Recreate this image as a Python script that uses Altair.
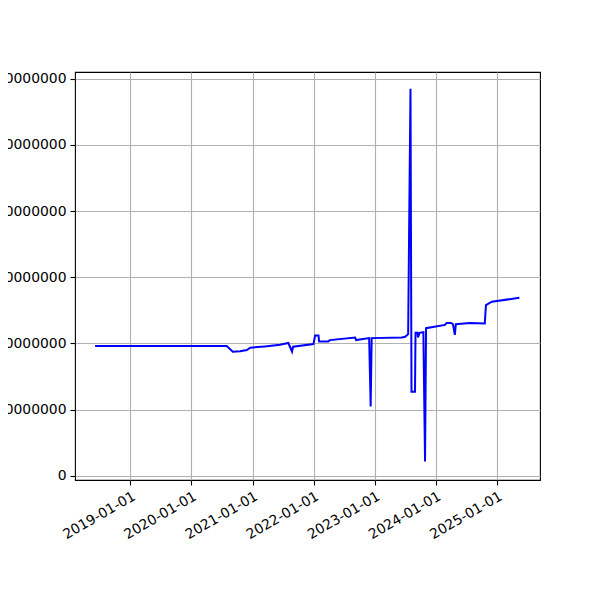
import altair as alt
import pandas as pd

dates = [
    "2018-06-04", "2020-07-30", "2020-09-04", "2020-10-18", "2020-11-27",
    "2020-12-17", "2021-03-15", "2021-06-13", "2021-08-02", "2021-08-24",
    "2021-08-30", "2021-12-30", "2022-01-09", "2022-01-29", "2022-02-02",
    "2022-03-28", "2022-04-07", "2022-09-05", "2022-09-11", "2022-11-28",
    "2022-12-07", "2022-12-13", "2023-06-11", "2023-07-01", "2023-07-19",
    "2023-08-02", "2023-08-08", "2023-08-29", "2023-09-01", "2023-09-13",
    "2023-09-16", "2023-09-25", "2023-10-18", "2023-10-28", "2023-11-03",
    "2024-02-24", "2024-03-05", "2024-04-01", "2024-04-12", "2024-04-23",
    "2024-04-29", "2024-07-22", "2024-10-19", "2024-10-26", "2024-11-30",
    "2025-05-14",
]
values = [
    196, 196, 187.5, 188, 190,
    193.5, 195.5, 198, 200.6, 187.5,
    195, 199, 212, 212, 203,
    203, 205, 209, 205, 208,
    104.5, 208, 209, 210, 214,
    585, 127, 127, 216, 216,
    209, 216, 217, 21.6, 223,
    228, 231, 231, 229, 213,
    229, 231, 230, 258, 263,
    269,
]
values = [v * 1_000_000 for v in values]

y_ticks = [0, 100000000, 200000000, 300000000, 400000000, 500000000, 600000000]
x_years = [2019, 2020, 2021, 2022, 2023, 2024, 2025]

df = pd.DataFrame({"date": dates, "value": values})

chart = alt.Chart(df).mark_line(color="#0000ff", strokeWidth=2).encode(
    x=alt.X(
        "date:T",
        title=None,
        scale=alt.Scale(
            type="utc",
            domain=[
                alt.DateTime(year=2018, month=2, date=4, utc=True),
                alt.DateTime(year=2025, month=9, date=14, utc=True),
            ],
            nice=False,
        ),
        axis=alt.Axis(
            values=[alt.DateTime(year=y, month=1, date=1, utc=True) for y in x_years],
            labelExpr="utcFormat(datum.value, '%Y-%m-%d')",
            labelAngle=-30,
            labelAlign="right",
            labelBaseline="top",
        ),
    ),
    y=alt.Y(
        "value:Q",
        title=None,
        scale=alt.Scale(domain=[-6500000, 610300000], nice=False, zero=False),
        axis=alt.Axis(values=y_ticks, format="d"),
    ),
).properties(
    width=465,
    height=408,
    background="white",
    autosize=alt.AutoSizeParams(type="none"),
    padding={"left": 67, "top": 64, "right": 52, "bottom": 112},
).configure_axis(
    labelFont="DejaVu Sans",
    labelFontSize=13.9,
    labelColor="black",
    labelLimit=0,
    labelOverlap=False,
    tickColor="black",
    tickSize=5,
    tickWidth=1.1,
    labelPadding=4,
    domain=False,
    grid=True,
    gridColor="#b0b0b0",
    gridWidth=1.1,
    gridOpacity=1,
).configure_view(
    stroke="black",
    strokeWidth=1.1,
)

chart.save("out.html", embed_options={"renderer": "svg", "actions": False})
